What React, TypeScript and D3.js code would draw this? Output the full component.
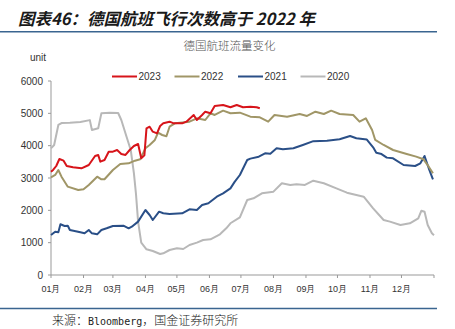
import React from "react";
import * as d3 from "d3";

const W = 455;
const H = 329;

const titleText = "图表46：德国航班飞行次数高于 2022 年";
const chartTitle = "德国航班流量变化";
const unitLabel = "unit";
const sourcePrefix = "来源：";
const sourceLatin = "Bloomberg";
const sourceSuffix = "，国金证券研究所";

const monthLabels = ["01月", "02月", "03月", "04月", "05月", "06月", "07月", "08月", "09月", "10月", "11月", "12月"];
const monthStartDays = [0, 31, 59, 90, 120, 151, 181, 212, 243, 273, 304, 334, 365];
const yTicks = [0, 1000, 2000, 3000, 4000, 5000, 6000];

const seriesNames = ["2023", "2022", "2021", "2020"];

// [day of year, flights]
const s2023: [number, number][] = [
  [0, 3195], [2, 3248], [5, 3371], [8, 3588], [12, 3536], [15, 3371], [21, 3330], [29, 3300],
  [36, 3402], [42, 3681], [45, 3712], [47, 3505], [51, 3557], [55, 3814], [59, 3814], [63, 3866],
  [67, 3743], [71, 3712], [75, 3866], [79, 3990], [83, 4052], [86, 3609], [89, 3700], [91, 4537],
  [94, 4587], [97, 4433], [101, 4382], [104, 4608], [107, 4691], [113, 4742], [117, 4691],
  [125, 4691], [129, 4742], [136, 4949], [139, 4794], [144, 4949], [147, 5051], [152, 5001],
  [156, 5227], [164, 5258], [171, 5187], [177, 5258], [183, 5187], [190, 5207], [196, 5187], [199, 5156],
];

const s2022: [number, number][] = [
  [0, 3021], [4, 3093], [7, 3248], [10, 3041], [16, 2732], [26, 2629], [31, 2650], [36, 2784],
  [44, 3041], [48, 2960], [51, 2960], [59, 3248], [66, 3433], [74, 3454], [80, 3536], [85, 3578],
  [90, 3919], [94, 4021], [99, 4176], [102, 4400], [106, 4330], [110, 4290], [113, 4587],
  [118, 4691], [123, 4711], [132, 4742], [139, 4846], [147, 4794], [152, 5001], [156, 4949],
  [164, 5082], [171, 5001], [180, 5020], [190, 4897], [199, 4877], [207, 4742], [213, 4949],
  [225, 4897], [237, 4980], [244, 4918], [252, 5051], [260, 4980], [267, 5082], [275, 4980],
  [288, 4949], [294, 4742], [300, 4846], [306, 4485], [309, 4176], [317, 4021], [326, 3866],
  [339, 3743], [348, 3660], [355, 3578], [360, 3350], [364, 3145],
];

const s2021: [number, number][] = [
  [0, 1237], [4, 1340], [7, 1320], [9, 1568], [13, 1516], [16, 1525], [18, 1392], [28, 1320],
  [32, 1289], [36, 1392], [39, 1289], [44, 1258], [48, 1392], [53, 1444], [59, 1516], [69, 1525],
  [74, 1444], [77, 1494], [83, 1650], [90, 2010], [94, 1856], [97, 1701], [103, 1958], [107, 1908],
  [113, 1887], [125, 1908], [132, 2032], [139, 2010], [144, 2165], [150, 2217], [158, 2422],
  [164, 2526], [171, 2680], [175, 2880], [180, 3093], [187, 3557], [190, 3600], [198, 3660],
  [204, 3764], [209, 3750], [215, 3919], [221, 3887], [231, 3919], [240, 4021], [250, 4140],
  [263, 4154], [275, 4197], [285, 4300], [291, 4228], [301, 4190], [307, 3950], [310, 3780],
  [315, 3740], [320, 3630], [326, 3609], [336, 3402], [347, 3371], [352, 3454], [356, 3681],
  [360, 3300], [364, 2960],
];

const s2020: [number, number][] = [
  [0, 3918], [3, 4020], [7, 4640], [10, 4700], [18, 4710], [28, 4730], [37, 4790], [39, 4485],
  [45, 4537], [48, 5000], [56, 5020], [64, 5010], [67, 4794], [72, 4277], [76, 3866], [79, 3150],
  [81, 2500], [83, 1650], [86, 1000], [91, 795], [97, 742], [104, 650], [107, 671], [113, 773],
  [120, 825], [126, 804], [132, 928], [139, 1000], [145, 1083], [152, 1104], [161, 1258],
  [167, 1444], [171, 1600], [180, 1784], [187, 2320], [193, 2371], [201, 2526], [212, 2578],
  [220, 2836], [228, 2784], [234, 2805], [242, 2784], [250, 2917], [260, 2836], [272, 2681],
  [282, 2546], [298, 2422], [307, 2062], [317, 1701], [323, 1650], [333, 1547], [342, 1598],
  [350, 1753], [353, 1989], [356, 1958], [359, 1547], [363, 1289], [365, 1230],
];

const seriesData = [s2023, s2022, s2021, s2020];
const seriesColors = ["#d7141a", "#a09667", "#2a4f87", "#b8b8b8"];

const AX = "#333333";
const FONT = "'Liberation Sans', Arial, sans-serif";
const CJK = "'Noto Sans CJK SC', sans-serif";

export default function App() {
  const x = d3.scaleLinear().domain([0, 365]).range([51, 434]);
  const y = d3.scaleLinear().domain([0, 6000]).range([275, 81]);
  const line = d3
    .line<[number, number]>()
    .x((d) => x(d[0]))
    .y((d) => y(d[1]));

  const legendX = [112, 174.5, 238, 300.5];
  const legendY = 76.5;

  return (
    <svg
      width={W}
      height={H}
      viewBox={`0 0 ${W} ${H}`}
      style={{ position: "absolute", left: 0, top: 0, background: "#fff" }}
    >
      <rect width={W} height={H} fill="#fff" />
      {/* header */}
      <text
        x={18}
        y={25}
        fontFamily={CJK}
        fontSize={16.5}
        fontWeight={700}
        fontStyle="italic"
        fill="#1a1a1a"
      >
        {titleText}
      </text>
      <line x1={0} x2={437} y1={31.8} y2={31.8} stroke="#3a6590" strokeWidth={1.5} />

      {/* chart title */}
      <text x={229.5} y={50} textAnchor="middle" fontFamily={CJK} fontSize={11.5} fill="#555" fontWeight={300}>
        {chartTitle}
      </text>
      <text x={30} y={61} fontFamily={FONT} fontSize={10} fill={AX}>
        {unitLabel}
      </text>

      {/* legend */}
      {seriesNames.map((n, i) => (
        <g key={n}>
          <line
            x1={legendX[i]}
            x2={legendX[i] + 25}
            y1={legendY}
            y2={legendY}
            stroke={seriesColors[i]}
            strokeWidth={2}
          />
          <text x={legendX[i] + 26.5} y={legendY + 3.6} fontFamily={FONT} fontSize={10} fill={AX}>
            {n}
          </text>
        </g>
      ))}

      {/* y axis */}
      <line x1={51} x2={51} y1={y(6000)} y2={y(0)} stroke="#999" strokeWidth={1} />
      {yTicks.map((t) => (
        <g key={t}>
          <line x1={48} x2={51} y1={y(t)} y2={y(t)} stroke="#999" />
          <text
            x={43}
            y={y(t) + 3.6}
            textAnchor="end"
            fontFamily={FONT}
            fontSize={10}
            fill={AX}
          >
            {t}
          </text>
        </g>
      ))}

      {/* x axis */}
      <line x1={x(0)} x2={x(365)} y1={275} y2={275} stroke="#999" strokeWidth={1} />
      {monthStartDays.map((d) => (
        <line key={d} x1={x(d)} x2={x(d)} y1={275} y2={278} stroke="#999" />
      ))}
      {monthLabels.map((m, i) => (
        <text
          key={m}
          x={x(monthStartDays[i])}
          y={292}
          textAnchor="middle"
          fontFamily={FONT}
          fontSize={9}
          fill={AX}
        >
          {m}
        </text>
      ))}

      {/* series, draw 2020 first so 2023 is on top */}
      {seriesData
        .map((s, i) => ({ s, i }))
        .reverse()
        .map(({ s, i }) => (
          <path
            key={seriesNames[i]}
            d={line(s) || ""}
            fill="none"
            stroke={seriesColors[i]}
            strokeWidth={2}
            strokeLinejoin="round"
          />
        ))}

      {/* footer */}
      <line x1={0} x2={437} y1={308.5} y2={308.5} stroke="#3a6590" strokeWidth={1.5} />
      <text x={52} y={325} fontSize={12} fill="#222">
        <tspan fontFamily={CJK} fontWeight={300}>{sourcePrefix}</tspan>
        <tspan fontFamily="'DejaVu Sans Mono', monospace" fontSize={10}>{sourceLatin}</tspan>
        <tspan fontFamily={CJK} fontWeight={300}>{sourceSuffix}</tspan>
      </text>
    </svg>
  );
}
